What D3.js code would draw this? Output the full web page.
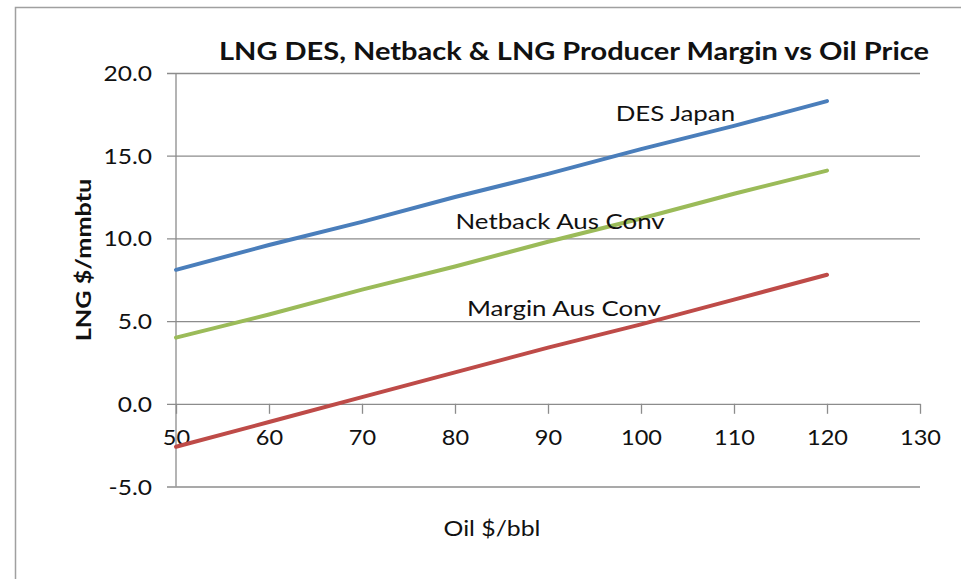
<!DOCTYPE html>
<html>
<head>
<meta charset="utf-8">
<script src="https://cdn.jsdelivr.net/npm/d3@7"></script>
<style>
  html, body { margin: 0; padding: 0; background: #fff; }
  svg { display: block; }
  text { font-family: Lato, "Open Sans", sans-serif; fill: #111; }
</style>
</head>
<body>
<svg id="chart" width="961" height="579"></svg>
<script>
// Oil price points (US$/bbl)
const oilPrices = [50, 60, 70, 80, 90, 100, 110, 120];
// LNG values (US$/mmbtu) at each oil price
const desJapan = [8.1, 9.6, 11.0, 12.5, 13.9, 15.4, 16.8, 18.3];
const netbackAusConv = [4.0, 5.4, 6.9, 8.3, 9.8, 11.2, 12.7, 14.1];
const marginAusConv = [-2.6, -1.1, 0.4, 1.9, 3.4, 4.8, 6.3, 7.8];

const seriesNames = ["DES Japan", "Netback Aus Conv", "Margin Aus Conv"];
const seriesValues = [desJapan, netbackAusConv, marginAusConv];
const seriesColors = ["#4a7ebb", "#9bbb59", "#be4b48"];
// Where each series label sits, in data units [oil price, LNG value]
const labelAnchors = [[103.7, 17.6], [91.3, 11.06], [91.7, 5.8]];

const xTicks = [50, 60, 70, 80, 90, 100, 110, 120, 130];
const yTicks = [-5, 0, 5, 10, 15, 20];

const title = "LNG DES, Netback & LNG Producer Margin vs Oil Price";
const xTitle = "Oil $/bbl";
const yTitle = "LNG $/mmbtu";

const svg = d3.select("#chart");

// Widen text horizontally to the face's proportions
function stretch(sel, k) {
  sel.each(function () {
    const len = this.getComputedTextLength();
    d3.select(this)
      .attr("textLength", len * k)
      .attr("lengthAdjust", "spacingAndGlyphs");
  });
}

// Outer chart frame
svg.append("path")
  .attr("d", "M15.5,590 L15.5,7.5 L970,7.5")
  .attr("fill", "none")
  .attr("stroke", "#a0a0a0")
  .attr("stroke-width", 1.5);

const x = d3.scaleLinear().domain([50, 130]).range([176, 920]);
const y = d3.scaleLinear().domain([-5, 20]).range([486.5, 73]);

// Horizontal gridlines with left tick marks
const yAxis = d3.axisLeft(y)
  .tickValues(yTicks)
  .tickSize(-(x(130) - x(50)))
  .tickFormat(d => d3.format(".1f")(d).replace("\u2212", "-"));

const gy = svg.append("g")
  .attr("transform", `translate(${x(50)},0)`)
  .call(yAxis);
gy.select(".domain").remove();
gy.selectAll(".tick line")
  .attr("x1", -9)
  .attr("stroke", "#8c8c8c")
  .attr("stroke-width", 1.3);
gy.selectAll(".tick text")
  .attr("x", -24)
  .attr("dy", "0.36em")
  .style("font-size", "21px")
  .style("font-family", "Lato, sans-serif")
  .attr("fill", "#111")
  .call(stretch, 1.17);

// Vertical axis line
svg.append("line")
  .attr("x1", x(50)).attr("x2", x(50))
  .attr("y1", y(20)).attr("y2", y(-5))
  .attr("stroke", "#8c8c8c")
  .attr("stroke-width", 1.3);

// Horizontal axis drawn at zero
const xAxis = d3.axisBottom(x)
  .tickValues(xTicks)
  .tickSize(10)
  .tickPadding(16);
const gx = svg.append("g")
  .attr("transform", `translate(0,${y(0)})`)
  .call(xAxis);
gx.select(".domain").remove();
gx.selectAll(".tick line")
  .attr("stroke", "#8c8c8c")
  .attr("stroke-width", 1.3);
gx.selectAll(".tick text")
  .style("font-size", "21px")
  .style("font-family", "Lato, sans-serif")
  .attr("fill", "#111")
  .call(stretch, 1.12);

// Series lines
const line = d3.line()
  .x((d, i) => x(oilPrices[i]))
  .y(d => y(d));

seriesValues.forEach((vals, k) => {
  svg.append("path")
    .datum(vals)
    .attr("d", line)
    .attr("fill", "none")
    .attr("stroke", seriesColors[k])
    .attr("stroke-width", 4)
    .attr("stroke-linecap", "round");
});

// Series labels
seriesNames.forEach((name, k) => {
  svg.append("text")
    .attr("x", x(labelAnchors[k][0]))
    .attr("y", y(labelAnchors[k][1]))
    .attr("text-anchor", "middle")
    .attr("dominant-baseline", "central")
    .style("font-size", "21px")
    .text(name)
    .call(stretch, 1.23);
});

// Chart title
svg.append("text")
  .attr("x", 574)
  .attr("y", 50)
  .attr("text-anchor", "middle")
  .attr("dominant-baseline", "central")
  .attr("textLength", 710)
  .attr("lengthAdjust", "spacingAndGlyphs")
  .style("font-size", "24px")
  .style("font-weight", "bold")
  .text(title);

// Axis titles
svg.append("text")
  .attr("x", 492)
  .attr("y", 527)
  .attr("text-anchor", "middle")
  .attr("dominant-baseline", "central")
  .style("font-size", "21px")
  .text(xTitle)
  .call(stretch, 1.18);

svg.append("text")
  .attr("transform", "translate(82,260) rotate(-90)")
  .attr("text-anchor", "middle")
  .attr("dominant-baseline", "central")
  .style("font-size", "21px")
  .style("font-weight", "bold")
  .text(yTitle)
  .call(stretch, 1.2);
</script>
</body>
</html>
